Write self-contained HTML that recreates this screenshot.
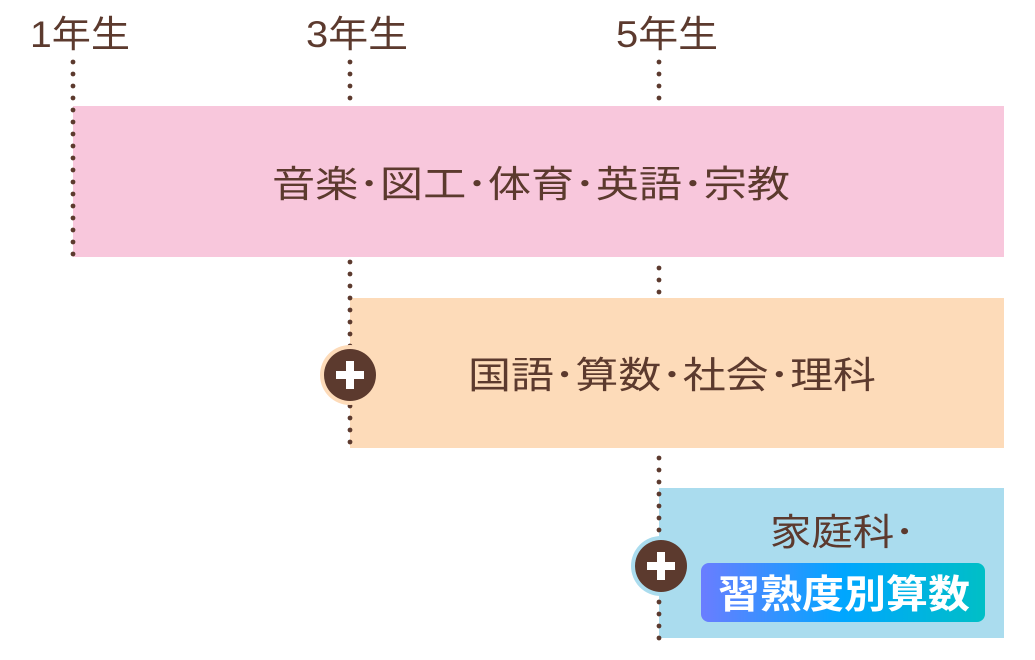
<!DOCTYPE html>
<html><head><meta charset="utf-8"><style>
html,body{margin:0;padding:0;background:#fff;width:1035px;height:660px;overflow:hidden}
svg text{font-family:"Liberation Sans","Noto Sans CJK JP",sans-serif;fill:#5c3a2e}
</style></head><body>
<svg width="1035" height="660" viewBox="0 0 1035 660" xmlns="http://www.w3.org/2000/svg">
<defs>
<linearGradient id="g" x1="0" x2="1" y1="0" y2="0">
<stop offset="0" stop-color="#6a7dff"/><stop offset="0.5" stop-color="#00a6ff"/><stop offset="1" stop-color="#00bfc6"/>
</linearGradient>
</defs>
<rect x="73" y="106" width="931" height="151" fill="#f8c7dc"/>
<rect x="350" y="298" width="654" height="150" fill="#fddbb9"/>
<rect x="659" y="488" width="345" height="150" fill="#aadcee"/>
<g fill="#5c3a2e">
<circle cx="73" cy="62" r="2.4"/><circle cx="73" cy="74" r="2.4"/><circle cx="73" cy="86" r="2.4"/><circle cx="73" cy="98" r="2.4"/><circle cx="73" cy="110" r="2.4"/><circle cx="73" cy="122" r="2.4"/><circle cx="73" cy="134" r="2.4"/><circle cx="73" cy="146" r="2.4"/><circle cx="73" cy="158" r="2.4"/><circle cx="73" cy="170" r="2.4"/><circle cx="73" cy="182" r="2.4"/><circle cx="73" cy="194" r="2.4"/><circle cx="73" cy="206" r="2.4"/><circle cx="73" cy="218" r="2.4"/><circle cx="73" cy="230" r="2.4"/><circle cx="73" cy="242" r="2.4"/><circle cx="73" cy="254" r="2.4"/>
<circle cx="350" cy="62" r="2.4"/><circle cx="350" cy="74" r="2.4"/><circle cx="350" cy="86" r="2.4"/><circle cx="350" cy="98" r="2.4"/>
<circle cx="350" cy="262" r="2.4"/><circle cx="350" cy="274" r="2.4"/><circle cx="350" cy="286" r="2.4"/><circle cx="350" cy="298" r="2.4"/><circle cx="350" cy="310" r="2.4"/><circle cx="350" cy="322" r="2.4"/><circle cx="350" cy="334" r="2.4"/><circle cx="350" cy="346" r="2.4"/><circle cx="350" cy="406" r="2.4"/><circle cx="350" cy="418" r="2.4"/><circle cx="350" cy="430" r="2.4"/><circle cx="350" cy="442" r="2.4"/>
<circle cx="659" cy="62" r="2.4"/><circle cx="659" cy="74" r="2.4"/><circle cx="659" cy="86" r="2.4"/><circle cx="659" cy="98" r="2.4"/>
<circle cx="659" cy="268" r="2.4"/><circle cx="659" cy="280" r="2.4"/><circle cx="659" cy="292" r="2.4"/>
<circle cx="659" cy="458" r="2.4"/><circle cx="659" cy="470" r="2.4"/><circle cx="659" cy="482" r="2.4"/><circle cx="659" cy="494" r="2.4"/><circle cx="659" cy="506" r="2.4"/><circle cx="659" cy="518" r="2.4"/><circle cx="659" cy="530" r="2.4"/><circle cx="659" cy="602" r="2.4"/><circle cx="659" cy="614" r="2.4"/><circle cx="659" cy="626" r="2.4"/><circle cx="659" cy="638" r="2.4"/>
</g>
<text x="30" y="47" font-size="37" textLength="100" lengthAdjust="spacingAndGlyphs">1年生</text>
<text x="306" y="47" font-size="37" textLength="102" lengthAdjust="spacingAndGlyphs">3年生</text>
<text x="616" y="47" font-size="37" textLength="102" lengthAdjust="spacingAndGlyphs">5年生</text>
<text x="272" y="197" font-size="37" textLength="518" lengthAdjust="spacingAndGlyphs">音楽･図工･体育･英語･宗教</text>
<text x="468" y="388" font-size="37" textLength="408" lengthAdjust="spacingAndGlyphs">国語･算数･社会･理科</text>
<text x="770" y="545" font-size="37" textLength="145" lengthAdjust="spacingAndGlyphs">家庭科･</text>
<rect x="701" y="563" width="284" height="59" rx="8" fill="url(#g)"/>
<text x="718" y="608" font-size="39" font-weight="bold" textLength="252" lengthAdjust="spacingAndGlyphs" style="fill:#fff">習熟度別算数</text>
<circle cx="350" cy="375" r="30" fill="#fddbb9"/>
<circle cx="350" cy="375" r="26" fill="#5c3a2e"/>
<rect x="336" y="371" width="28" height="8" fill="#fff"/><rect x="346" y="361" width="8" height="28" fill="#fff"/>
<circle cx="661" cy="566" r="30" fill="#aadcee"/>
<circle cx="661" cy="566" r="26" fill="#5c3a2e"/>
<rect x="647" y="562" width="28" height="8" fill="#fff"/><rect x="657" y="552" width="8" height="28" fill="#fff"/>
</svg>
</body></html>
